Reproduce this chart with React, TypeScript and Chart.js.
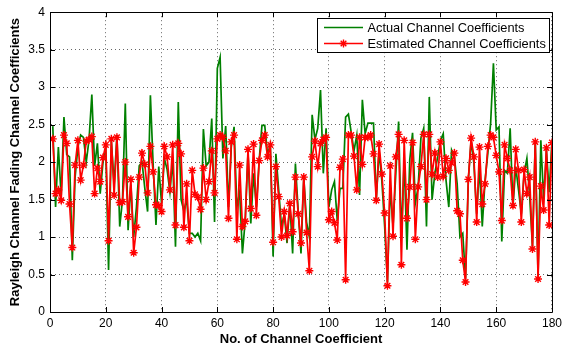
import React, { useEffect, useRef } from "react";
import { Chart, registerables } from "chart.js";

Chart.register(...registerables);

const indices: number[] = Array.from({ length: 180 }, (_, i) => i + 1);

const actual: number[] = [
  2.48, 1.40, 2.20, 1.54, 2.60, 2.10, 2.07, 0.69, 1.80, 2.20,
  2.36, 2.33, 2.00, 2.30, 2.90, 1.95, 2.25, 1.58, 2.00, 2.17,
  0.56, 2.28, 1.70, 2.36, 1.14, 1.50, 2.78, 1.09, 1.70, 1.00,
  1.40, 1.95, 2.00, 1.65, 1.34, 2.89, 1.95, 1.16, 1.94, 1.45,
  2.05, 1.90, 1.60, 2.05, 0.87, 2.80, 1.50, 1.35, 1.50, 1.05,
  1.05, 1.00, 1.05, 0.95, 2.44, 1.95, 2.00, 2.58, 1.20, 3.25,
  3.40, 2.05, 2.48, 1.40, 2.20, 2.47, 1.40, 1.60, 0.78, 1.22,
  2.13, 1.18, 1.85, 1.40, 2.02, 2.49, 2.49, 2.10, 2.23, 0.74,
  2.11, 1.63, 1.14, 1.30, 0.92, 1.45, 0.78, 1.98, 1.35, 0.78,
  1.80, 1.20, 1.00, 2.63, 2.30, 2.45, 2.96, 1.85, 2.45, 1.40,
  1.63, 1.74, 1.22, 1.65, 1.65, 2.60, 2.64, 2.40, 2.15, 2.36,
  1.56, 2.83, 2.38, 2.52, 2.52, 2.52, 1.50, 2.15, 1.75, 1.14,
  0.40, 1.67, 1.14, 1.85, 2.54, 1.00, 2.03, 0.83, 2.03, 2.39,
  1.45, 1.67, 2.32, 2.45, 1.14, 2.87, 1.50, 1.85, 2.07, 2.29,
  2.38, 1.76, 1.40, 2.16, 2.07, 1.71, 1.00, 1.05, 0.45, 1.76,
  2.29, 1.98, 1.31, 1.94, 1.14, 1.76, 2.12, 2.52, 3.32, 2.43,
  2.47, 0.94, 1.89, 1.85, 2.45, 1.40, 1.94, 1.63, 1.31, 1.85,
  2.05, 1.54, 0.87, 2.29, 0.48, 2.29, 1.50, 2.16, 1.60, 2.29,
];

const estimated: number[] = [
  2.31, 1.58, 1.63, 1.49, 2.36, 2.25, 1.44, 0.86, 1.96, 2.29,
  1.76, 1.96, 2.28, 2.30, 2.34, 1.58, 1.92, 1.74, 2.06, 2.23,
  0.95, 2.31, 1.56, 2.33, 1.46, 1.47, 2.00, 1.27, 1.77, 0.79,
  1.13, 1.80, 2.12, 1.97, 1.59, 2.21, 1.87, 1.43, 1.42, 1.34,
  2.21, 2.07, 1.63, 2.23, 1.16, 2.25, 2.11, 1.13, 1.71, 0.95,
  1.89, 1.57, 1.53, 1.37, 1.92, 1.50, 1.74, 2.15, 1.59, 2.31,
  2.36, 2.33, 2.15, 1.25, 2.27, 2.36, 0.97, 1.96, 1.14, 1.21,
  2.17, 1.38, 2.24, 1.29, 2.02, 2.29, 2.36, 2.07, 2.23, 0.93,
  1.94, 1.54, 1.00, 1.34, 1.02, 1.45, 1.07, 1.80, 1.31, 0.92,
  1.80, 1.06, 0.55, 2.07, 2.28, 1.94, 2.25, 2.30, 2.33, 1.23,
  1.34, 1.19, 0.96, 1.93, 2.04, 0.43, 2.36, 2.36, 2.08, 1.63,
  2.33, 1.97, 2.33, 2.33, 2.36, 2.11, 1.49, 2.24, 1.84, 1.32,
  0.35, 1.95, 1.01, 2.07, 2.37, 0.63, 2.29, 1.25, 1.67, 2.26,
  0.97, 1.67, 1.94, 2.37, 1.50, 2.37, 1.84, 2.12, 1.80, 2.27,
  1.81, 2.05, 1.89, 1.99, 2.12, 1.35, 1.31, 0.69, 0.40, 1.77,
  2.32, 2.07, 1.20, 2.20, 1.44, 1.71, 2.21, 2.36, 2.33, 2.09,
  1.87, 1.22, 2.23, 2.05, 1.89, 1.42, 2.17, 1.89, 1.20, 1.90,
  1.58, 1.80, 0.84, 2.27, 0.44, 1.68, 1.36, 2.19, 1.16, 2.26,
];

const xTicks: number[] = [0, 20, 40, 60, 80, 100, 120, 140, 160, 180];
const yTicks: number[] = [0, 0.5, 1, 1.5, 2, 2.5, 3, 3.5, 4];
const seriesNames: string[] = ["Actual Channel Coefficients", "Estimated Channel Coefficients"];
const xTitle = "No. of Channel Coefficient";
const yTitle = "Rayleigh Channel Fading Channel Coefficients";

const GREEN = "#008000";
const RED = "#ff0000";
const FONT = "'Liberation Sans', Arial, sans-serif";

const framePlugin = {
  id: "matlabFrame",
  afterDraw(chart: any) {
    const { ctx, chartArea } = chart;
    const { left, right, top, bottom } = chartArea;
    const xs = chart.scales.x;
    const ys = chart.scales.y;
    ctx.save();
    ctx.strokeStyle = "#000";
    ctx.lineWidth = 1;
    ctx.beginPath();
    ctx.rect(Math.round(left) + 0.5, Math.round(top) + 0.5, Math.round(right - left), Math.round(bottom - top));
    ctx.stroke();
    const tl = 5;
    ctx.beginPath();
    xTicks.forEach((v) => {
      const p = Math.round(xs.getPixelForValue(v)) + 0.5;
      ctx.moveTo(p, bottom);
      ctx.lineTo(p, bottom - tl);
      ctx.moveTo(p, top);
      ctx.lineTo(p, top + tl);
    });
    yTicks.forEach((v) => {
      const p = Math.round(ys.getPixelForValue(v)) + 0.5;
      ctx.moveTo(left, p);
      ctx.lineTo(left + tl, p);
      ctx.moveTo(right, p);
      ctx.lineTo(right - tl, p);
    });
    ctx.stroke();

    // legend box
    const bx = 317.5, by = 18.5, bw = 232, bh = 34;
    ctx.fillStyle = "#fff";
    ctx.fillRect(bx, by, bw, bh);
    ctx.strokeStyle = "#000";
    ctx.strokeRect(bx, by, bw, bh);
    const rows = [by + 9, by + 25];
    const colors = [GREEN, RED];
    ctx.font = `12.8px ${FONT}`;
    ctx.textBaseline = "middle";
    ctx.textAlign = "left";
    rows.forEach((ry, i) => {
      ctx.strokeStyle = colors[i];
      ctx.lineWidth = 1.4;
      ctx.beginPath();
      ctx.moveTo(324, ry);
      ctx.lineTo(363, ry);
      ctx.stroke();
      if (i === 1) {
        const cx = 343.5, r = 4;
        ctx.beginPath();
        for (let k = 0; k < 4; k++) {
          const a = (k * Math.PI) / 4;
          ctx.moveTo(cx - r * Math.cos(a), ry - r * Math.sin(a));
          ctx.lineTo(cx + r * Math.cos(a), ry + r * Math.sin(a));
        }
        ctx.stroke();
      }
      ctx.fillStyle = "#000";
      ctx.fillText(seriesNames[i], 367.5, ry + 0.5);
    });
    ctx.restore();
  },
};

export default function App() {
  const ref = useRef<HTMLCanvasElement | null>(null);
  useEffect(() => {
    document.body.style.margin = "0";
    const canvas = ref.current;
    if (!canvas) return;
    const chart = new Chart(canvas, {
      type: "line",
      data: {
        datasets: [
          {
            label: seriesNames[0],
            data: indices.map((x, i) => ({ x, y: actual[i] })),
            borderColor: GREEN,
            backgroundColor: GREEN,
            borderWidth: 1.7,
            pointRadius: 0,
            tension: 0,
            order: 2,
          },
          {
            label: seriesNames[1],
            data: indices.map((x, i) => ({ x, y: estimated[i] })),
            borderColor: RED,
            backgroundColor: RED,
            borderWidth: 1.7,
            pointStyle: "star",
            pointRadius: 4,
            pointBorderWidth: 1.4,
            pointBorderColor: RED,
            tension: 0,
            order: 1,
          },
        ],
      },
      options: {
        animation: false,
        responsive: false,
        maintainAspectRatio: false,
        layout: { padding: { top: 12, right: 10, left: 0, bottom: 0 } },
        plugins: {
          legend: { display: false },
          tooltip: { enabled: false },
        },
        scales: {
          x: {
            type: "linear",
            min: 0,
            max: 180,
            afterBuildTicks: (s: any) => {
              s.ticks = xTicks.map((v) => ({ value: v }));
            },
            afterFit: (s: any) => {
              s.height = 35;
            },
            ticks: {
              color: "#000",
              font: { family: FONT, size: 12 },
              padding: 4,
              maxRotation: 0,
            },
            grid: {
              color: "rgba(0,0,0,0.6)",
              lineWidth: 1,
              drawTicks: false,
            },
            border: { display: true, color: "#000", dash: [1, 3] },
            title: {
              display: true,
              text: xTitle,
              color: "#000",
              font: { family: FONT, size: 13, weight: "bold" },
              padding: { top: 0, bottom: 0 },
            },
          },
          y: {
            type: "linear",
            min: 0,
            max: 4,
            afterBuildTicks: (s: any) => {
              s.ticks = yTicks.map((v) => ({ value: v }));
            },
            afterFit: (s: any) => {
              s.width = 50;
            },
            ticks: {
              color: "#000",
              font: { family: FONT, size: 12 },
              padding: 5,
              callback: (v: any) => String(v),
            },
            grid: {
              color: "rgba(0,0,0,0.6)",
              lineWidth: 1,
              drawTicks: false,
            },
            border: { display: true, color: "#000", dash: [1, 3] },
            title: {
              display: true,
              text: yTitle,
              color: "#000",
              font: { family: FONT, size: 13, weight: "bold" },
              padding: { top: 8, bottom: 2 },
            },
          },
        },
      } as any,
      plugins: [framePlugin],
    });
    return () => chart.destroy();
  }, []);
  return (
    <div style={{ width: 566, height: 347, position: "relative" }}>
      <canvas ref={ref} width={566} height={347} style={{ display: "block" }} />
    </div>
  );
}
